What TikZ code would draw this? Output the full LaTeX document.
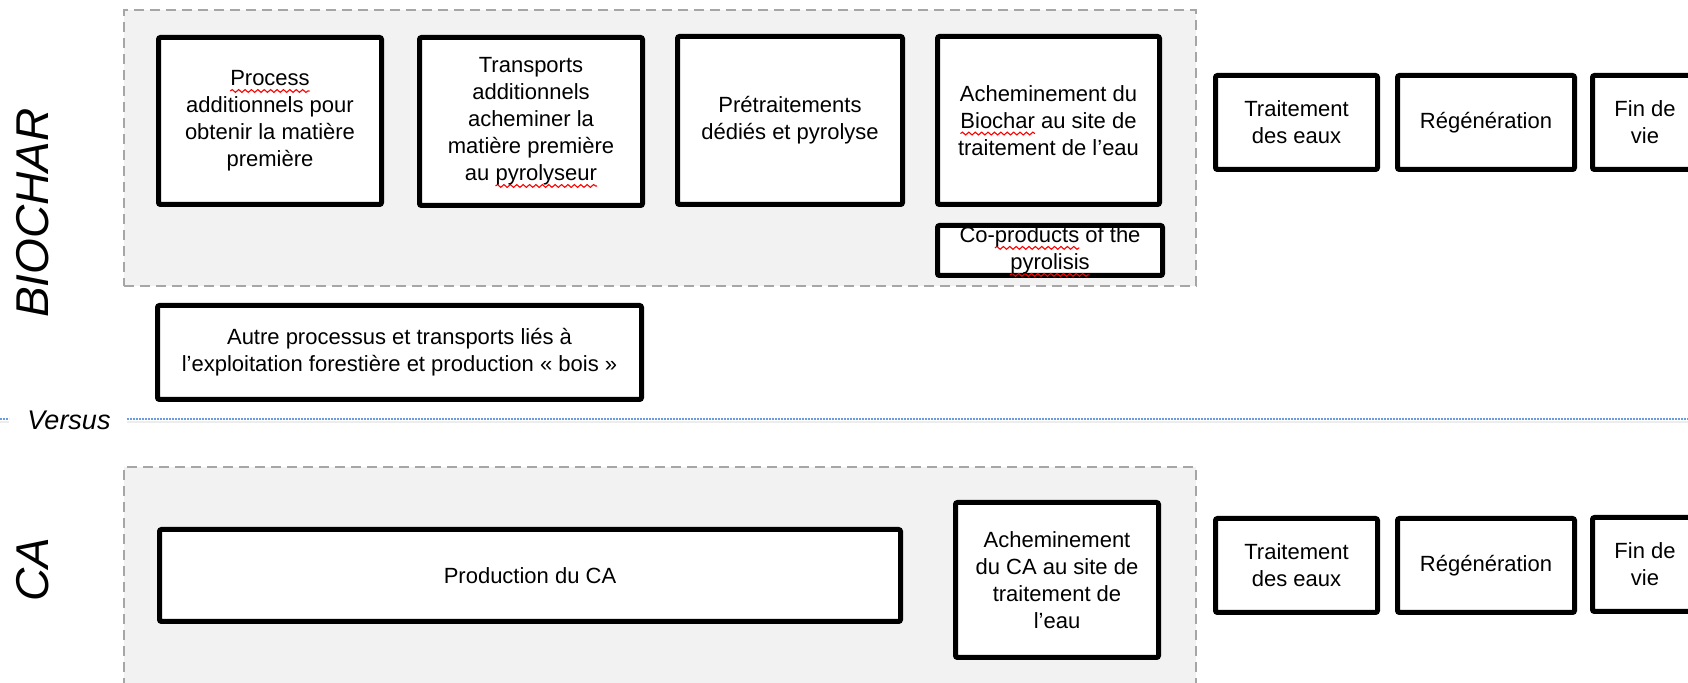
\documentclass[tikz,border=0pt]{standalone}
\usepackage{fontspec}
\setmainfont{Liberation Sans}
\usetikzlibrary{decorations.pathmorphing}
\definecolor{dashgray}{HTML}{A6A6A6}
\definecolor{panel}{HTML}{F2F2F2}
\definecolor{versusblue}{HTML}{6A9BE0}
\newsavebox\spbox
\newlength\splen
\tikzset{
  spellline/.style={draw=red, line width=0.55pt, sharp corners, solid,
    decorate, decoration={snake, amplitude=0.7pt, segment length=3.2pt}},
  box/.style={draw=black, line width=2.5pt, fill=white, rounded corners=1pt,
    align=center, inner sep=0pt, font=\fontsize{11}{13.5}\selectfont},
  boxtext/.style={align=center, inner sep=0pt, font=\fontsize{11}{13.5}\selectfont},
  panelbox/.style={draw=dashgray, fill=panel, line width=0.75pt,
    dash pattern=on 5pt off 3pt, inner sep=0pt},
  sidelabel/.style={font=\fontsize{23}{27}\selectfont\itshape, rotate=90, inner sep=0pt},
  versuslabel/.style={font=\fontsize{13.5}{16}\selectfont\itshape, inner sep=0pt},
  versusline/.style={draw=versusblue, line width=0.7pt, dash pattern=on 0.8pt off 0.7pt},
  versusshadow/.style={draw=black!7, line width=1.2pt}
}
\newcommand\spell[1]{\sbox\spbox{#1}\setlength\splen{\wd\spbox}\rlap{\tikz[overlay,baseline=0pt]\draw[spellline] (0pt,-2.6pt) -- (\splen,-2.6pt);}\usebox\spbox}
\newcommand\bx[6]{\node[box, minimum width={(#4-#2)*0.5pt-2.5pt}, minimum height={(#5-#3)*0.5pt-2.5pt}] (#1) at ({(#2+#4)/2},{(#3+#5)/2}) {#6};}
\newcommand\pn[5]{\node[panelbox, minimum width={(#4-#2)*0.5pt}, minimum height={(#5-#3)*0.5pt}] (#1) at ({(#2+#4)/2},{(#3+#5)/2}) {};}
\begin{document}
\begin{tikzpicture}[x=0.5pt, y=-0.5pt]
\useasboundingbox (0,0) rectangle (1688,683);
% panels
\pn{biopanel}{124}{10}{1196}{286}
\pn{capanel}{124}{467}{1196}{720}
% side labels
\node[sidelabel] (biolabel) at (33,213) {BIOCHAR};
\node[sidelabel] (calabel) at (33,570) {CA};
% biochar row
\bx{p1}{156}{35}{384}{207}{\spell{Process}\\additionnels pour\\obtenir la matière\\première}
\bx{p2}{417}{35}{645}{208}{Transports\\additionnels\\acheminer la\\matière première\\au \spell{pyrolyseur}}
\bx{p3}{675}{34}{905}{207}{Prétraitements\\dédiés et pyrolyse}
\bx{p4}{935}{34}{1162}{207}{Acheminement du\\\spell{Biochar} au site de\\traitement de l’eau}
\bx{cop}{935}{223}{1165}{278}{}
\node[boxtext] (coptxt) at (cop.center) {Co-\spell{products} of the\\\spell{pyrolisis}};
\bx{bt1}{1213}{73}{1380}{172}{Traitement\\des eaux}
\bx{bt2}{1395}{73}{1577}{172}{Régénération}
\bx{bt3}{1590}{73}{1700}{172}{Fin de\\vie}
\bx{autre}{155}{303}{644}{402}{Autre processus et transports liés à\\l’exploitation forestière et production « bois »}
% versus
\coordinate (vl0) at (0,419);
\coordinate (vl1) at (9,419);
\coordinate (vr0) at (127,419);
\coordinate (vr1) at (1688,419);
\coordinate (sl0) at (0,422);
\coordinate (sl1) at (9,422);
\coordinate (sr0) at (127,422);
\coordinate (sr1) at (1688,422);
\draw[versusshadow] (sl0) -- (sl1);
\draw[versusshadow] (sr0) -- (sr1);
\draw[versusline] (vl0) -- (vl1);
\draw[versusline] (vr0) -- (vr1);
\node[versuslabel] (versus) at (69,420) {Versus};
% CA row
\bx{c1}{157}{527}{903}{624}{Production du CA}
\bx{c2}{953}{500}{1161}{660}{Acheminement\\du CA au site de\\traitement de\\l’eau}
\bx{ct1}{1213}{516}{1380}{615}{Traitement\\des eaux}
\bx{ct2}{1395}{516}{1577}{615}{Régénération}
\bx{ct3}{1590}{515}{1700}{614}{Fin de\\vie}
\end{tikzpicture}
\end{document}
